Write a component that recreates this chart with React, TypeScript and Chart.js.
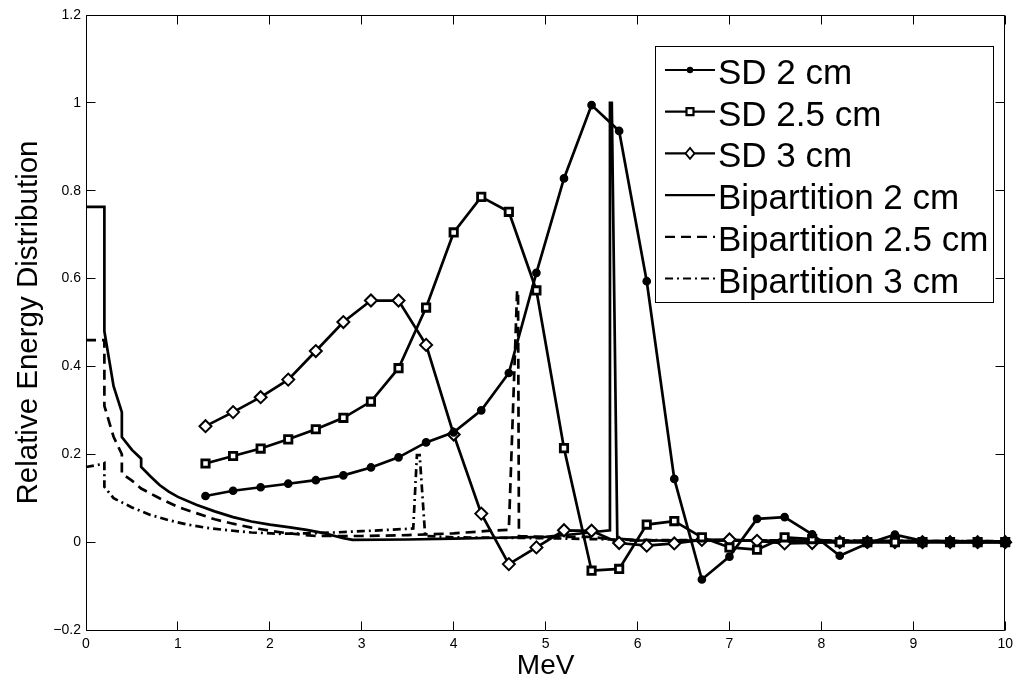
import React, { useEffect, useRef } from 'react';
import { Chart, registerables } from 'chart.js';

Chart.register(...registerables);

const FONT = '"Liberation Sans", Arial, Helvetica, sans-serif';

// ---- Data -------------------------------------------------------------
const sdEnergies = [1.3, 1.6, 1.9, 2.2, 2.5, 2.8, 3.1, 3.4, 3.7, 4.0, 4.3, 4.6, 4.9, 5.2, 5.5, 5.8, 6.1, 6.4, 6.7, 7.0, 7.3, 7.6, 7.9, 8.2, 8.5, 8.8, 9.1, 9.4, 9.7, 10.0];
const sd2cm = [0.105, 0.117, 0.125, 0.133, 0.141, 0.152, 0.170, 0.193, 0.227, 0.250, 0.300, 0.385, 0.613, 0.828, 0.995, 0.936, 0.594, 0.144, -0.085, -0.033, 0.053, 0.057, 0.018, -0.031, -0.003, 0.017, 0.003, 0, 0, 0];
const sd25cm = [0.179, 0.196, 0.213, 0.234, 0.257, 0.283, 0.320, 0.396, 0.534, 0.705, 0.786, 0.752, 0.573, 0.214, -0.065, -0.061, 0.040, 0.048, 0.011, -0.012, -0.017, 0.011, 0.007, 0, 0, 0, 0, 0, 0, 0];
const sd3cm = [0.264, 0.296, 0.330, 0.370, 0.435, 0.501, 0.550, 0.550, 0.449, 0.245, 0.065, -0.050, -0.012, 0.027, 0.026, -0.002, -0.008, -0.003, 0.005, 0.006, 0.003, -0.003, -0.002, 0, 0, 0, 0, 0, 0, 0];

const bip2X = [0, 0.2, 0.2, 0.3, 0.39, 0.39, 0.5, 0.6, 0.6, 0.7, 0.8, 0.9, 1.0, 1.2, 1.4, 1.6, 1.8, 2.0, 2.2, 2.4, 2.6, 2.8, 2.9, 3.5, 4.0, 4.5, 5.0, 5.3, 5.7, 5.7, 5.72, 5.78, 6.0, 10];
const bip2Y = [0.763, 0.763, 0.48, 0.355, 0.296, 0.239, 0.21, 0.19, 0.171, 0.15, 0.13, 0.115, 0.103, 0.085, 0.07, 0.057, 0.047, 0.04, 0.034, 0.028, 0.02, 0.009, 0.005, 0.006, 0.008, 0.01, 0.012, 0.018, 0.027, 1.0, 1.0, 0.008, 0.004, 0.002];

const bip25X = [0, 0.2, 0.2, 0.3, 0.39, 0.39, 0.5, 0.6, 0.8, 1.0, 1.2, 1.4, 1.6, 1.8, 2.0, 2.2, 2.5, 3.0, 3.5, 4.0, 4.4, 4.6, 4.69, 4.7, 4.71, 5.0, 5.5, 5.8, 10];
const bip25Y = [0.46, 0.46, 0.31, 0.24, 0.2, 0.156, 0.14, 0.122, 0.1, 0.08, 0.066, 0.052, 0.042, 0.033, 0.026, 0.02, 0.014, 0.014, 0.016, 0.02, 0.026, 0.028, 0.573, 0.573, 0.014, 0.012, 0.012, 0.004, 0.002];

const bip3X = [0, 0.18, 0.2, 0.2, 0.3, 0.5, 0.7, 0.9, 1.1, 1.3, 1.5, 1.8, 2.1, 2.4, 2.7, 3.0, 3.3, 3.56, 3.6, 3.63, 3.69, 4.0, 5.0, 6.0, 10];
const bip3Y = [0.171, 0.178, 0.18, 0.126, 0.1, 0.079, 0.062, 0.05, 0.04, 0.033, 0.028, 0.022, 0.019, 0.02, 0.022, 0.025, 0.028, 0.031, 0.198, 0.198, 0.014, 0.011, 0.009, 0.005, 0.002];

const seriesLabels = ['SD 2 cm', 'SD 2.5 cm', 'SD 3 cm', 'Bipartition 2 cm', 'Bipartition 2.5 cm', 'Bipartition 3 cm'];
const xTickValues = [0, 1, 2, 3, 4, 5, 6, 7, 8, 9, 10];
const yTickValues = [-0.2, 0, 0.2, 0.4, 0.6, 0.8, 1.0, 1.2];
const xAxisTitle = 'MeV';
const yAxisTitle = 'Relative Energy Distribution';

// ---- helpers ------------------------------------------------------------
const pairs = (xs: number[], ys: number[]) => xs.map((x, i) => ({ x, y: ys[i] }));

const fmtTick = (v: number) => {
  const s = String(Number(v.toFixed(1)));
  return s.startsWith('-') ? '\u2212' + s.slice(1) : s;
};

const crisp = (v: number) => Math.floor(v) + 0.5;

const frameTicks = {
  id: 'frameTicks',
  afterDatasetsDraw(chart: any) {
    const { ctx, chartArea: a, scales } = chart;
    const L = crisp(a.left), R = crisp(a.right - 1), T = crisp(a.top), B = crisp(a.bottom);
    ctx.save();
    ctx.setLineDash([]);
    ctx.strokeStyle = '#000';
    ctx.lineWidth = 1;
    ctx.beginPath();
    ctx.rect(L, T, R - L, B - T);
    const len = 9;
    xTickValues.forEach((v) => {
      const px = crisp(scales.x.getPixelForValue(v));
      ctx.moveTo(px, B); ctx.lineTo(px, B - len);
      ctx.moveTo(px, T); ctx.lineTo(px, T + len);
    });
    yTickValues.forEach((v) => {
      const py = crisp(scales.y.getPixelForValue(v));
      ctx.moveTo(L, py); ctx.lineTo(L + len, py);
      ctx.moveTo(R, py); ctx.lineTo(R - len, py);
    });
    ctx.stroke();
    ctx.restore();
  },
};

function drawMarker(ctx: CanvasRenderingContext2D, style: string, x: number, y: number) {
  ctx.save();
  ctx.setLineDash([]);
  ctx.strokeStyle = '#000';
  ctx.beginPath();
  if (style === 'circle') {
    ctx.fillStyle = '#000';
    ctx.arc(x, y, 3.2, 0, Math.PI * 2);
    ctx.fill();
  } else if (style === 'rect') {
    ctx.fillStyle = '#fff';
    ctx.lineWidth = 2.2;
    ctx.rect(x - 3.5, y - 3.5, 7, 7);
    ctx.fill();
    ctx.stroke();
  } else if (style === 'rectRot') {
    ctx.fillStyle = '#fff';
    ctx.lineWidth = 1.8;
    ctx.moveTo(x, y - 5.5);
    ctx.lineTo(x + 4.5, y);
    ctx.lineTo(x, y + 5.5);
    ctx.lineTo(x - 4.5, y);
    ctx.closePath();
    ctx.fill();
    ctx.stroke();
  }
  ctx.restore();
}

const matlabLegend = {
  id: 'matlabLegend',
  afterDraw(chart: any) {
    const { ctx } = chart;
    const box = { left: 655.5, top: 46.5, width: 338, height: 256 };
    ctx.save();
    ctx.fillStyle = '#fff';
    ctx.fillRect(box.left, box.top, box.width, box.height);
    ctx.strokeStyle = '#000';
    ctx.lineWidth = 1;
    ctx.setLineDash([]);
    ctx.strokeRect(box.left, box.top, box.width, box.height);
    const rowH = 41.7;
    chart.data.datasets.forEach((ds: any, i: number) => {
      const base = 84 + i * rowH;
      const ly = base - 14;
      ctx.save();
      ctx.strokeStyle = '#000';
      ctx.lineWidth = 2.2;
      ctx.setLineDash(ds.borderDash || []);
      ctx.beginPath();
      ctx.moveTo(665, ly);
      ctx.lineTo(715, ly);
      ctx.stroke();
      ctx.restore();
      if (ds.pointRadius > 0) drawMarker(ctx, ds.pointStyle, 690, ly);
      ctx.fillStyle = '#000';
      ctx.font = `35px ${FONT}`;
      ctx.textBaseline = 'alphabetic';
      ctx.textAlign = 'left';
      ctx.fillText(ds.label, 718, base);
    });
    ctx.restore();
  },
};

export default function App() {
  const ref = useRef<HTMLCanvasElement | null>(null);

  useEffect(() => {
    if (!ref.current) return;
    const sdCommon = {
      borderColor: '#000',
      backgroundColor: '#000',
      borderWidth: 2.7,
      pointBorderColor: '#000',
      tension: 0,
      clip: false as any,
    };
    const bipCommon = {
      borderColor: '#000',
      backgroundColor: '#000',
      borderWidth: 2.7,
      pointRadius: 0,
      tension: 0,
      clip: false as any,
    };
    const chart = new Chart(ref.current, {
      type: 'line',
      data: {
        datasets: [
          { ...sdCommon, label: seriesLabels[0], data: pairs(sdEnergies, sd2cm), pointStyle: 'circle', pointRadius: 3.6, pointBorderWidth: 1.5, pointBackgroundColor: '#000' },
          { ...sdCommon, label: seriesLabels[1], data: pairs(sdEnergies, sd25cm), pointStyle: 'rect', pointRadius: 5.2, pointBorderWidth: 2.8, pointBackgroundColor: '#fff' },
          { ...sdCommon, label: seriesLabels[2], data: pairs(sdEnergies, sd3cm), pointStyle: 'rectRot', pointRadius: 6, pointBorderWidth: 2, pointBackgroundColor: '#fff' },
          { ...bipCommon, label: seriesLabels[3], data: pairs(bip2X, bip2Y), borderDash: [] },
          { ...bipCommon, label: seriesLabels[4], data: pairs(bip25X, bip25Y), borderDash: [10, 6] },
          { ...bipCommon, label: seriesLabels[5], data: pairs(bip3X, bip3Y), borderDash: [8, 4, 2, 4] },
        ] as any,
      },
      options: {
        responsive: false,
        animation: false,
        devicePixelRatio: 1,
        layout: { padding: { top: 15, right: 13, left: 0, bottom: 0 } },
        plugins: { legend: { display: false }, tooltip: { enabled: false } },
        scales: {
          x: {
            type: 'linear',
            min: 0,
            max: 10,
            grid: { display: false, drawTicks: false },
            border: { display: false },
            afterBuildTicks: (s: any) => { s.ticks = xTickValues.map((v) => ({ value: v })); },
            afterFit: (s: any) => { s.height = 53; },
            ticks: {
              color: '#000',
              font: { family: FONT, size: 14 },
              padding: 6,
              maxRotation: 0,
              autoSkip: false,
              callback: (v: any) => fmtTick(Number(v)),
            },
            title: {
              display: true,
              text: xAxisTitle,
              color: '#000',
              font: { family: FONT, size: 28 },
              padding: { top: 0, bottom: 0 },
            },
          },
          y: {
            type: 'linear',
            min: -0.2,
            max: 1.2,
            grid: { display: false, drawTicks: false },
            border: { display: false },
            afterBuildTicks: (s: any) => { s.ticks = yTickValues.map((v) => ({ value: v })); },
            afterFit: (s: any) => { s.width = 86; },
            ticks: {
              color: '#000',
              font: { family: FONT, size: 14 },
              padding: 5,
              autoSkip: false,
              callback: (v: any) => fmtTick(Number(v)),
            },
            title: {
              display: true,
              text: yAxisTitle,
              color: '#000',
              font: { family: FONT, size: 29.5 },
              padding: { top: 11, bottom: 0 },
            },
          },
        },
      } as any,
      plugins: [frameTicks, matlabLegend],
    });
    return () => chart.destroy();
  }, []);

  return (
    <canvas
      ref={ref}
      width={1019}
      height={683}
      style={{ position: 'fixed', left: 0, top: 0, width: 1019, height: 683, background: '#fff' }}
    />
  );
}
